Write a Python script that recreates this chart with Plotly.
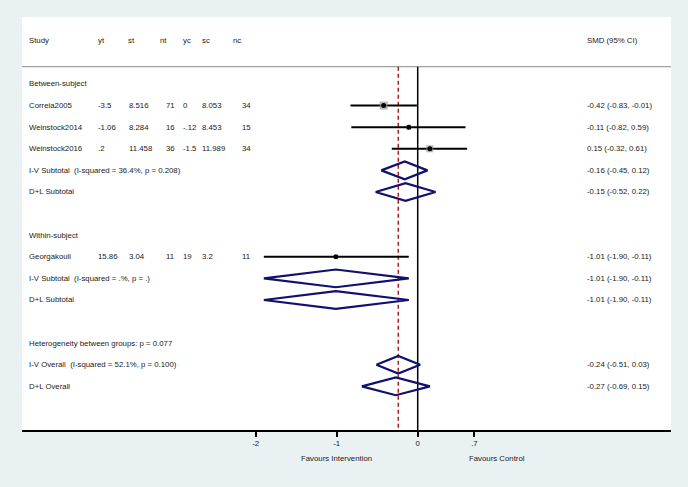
import plotly.graph_objects as go

# ---------------- data ----------------
studies = ["Correia2005", "Weinstock2014", "Weinstock2016", "Georgakouli"]
study_group = ["Between-subject", "Between-subject", "Between-subject", "Within-subject"]
yt = ["-3.5", "-1.06", ".2", "15.86"]
st = ["8.516", "8.284", "11.458", "3.04"]
nt = ["71", "16", "36", "11"]
yc = ["0", "-.12", "-1.5", "19"]
sc = ["8.053", "8.453", "11.989", "3.2"]
nc = ["34", "15", "34", "11"]
smd = [-0.42, -0.11, 0.15, -1.01]
ci_lo = [-0.83, -0.82, -0.32, -1.90]
ci_hi = [-0.01, 0.59, 0.61, -0.11]
box_weight = [43, 15, 33, 9]  # approximate % weights (box size)

groups = ["Between-subject", "Within-subject"]
iv_sub_label = ["I-V Subtotal\u00a0 (I-squared = 36.4%, p = 0.208)",
                "I-V Subtotal\u00a0 (I-squared = .%, p = .)"]
iv_sub_est = [-0.16, -1.01]
iv_sub_lo = [-0.45, -1.90]
iv_sub_hi = [0.12, -0.11]
dl_sub_label = ["D+L Subtotal", "D+L Subtotal"]
dl_sub_est = [-0.15, -1.01]
dl_sub_lo = [-0.52, -1.90]
dl_sub_hi = [0.22, -0.11]

het_text = "Heterogeneity between groups: p = 0.077"
overall_label = ["I-V Overall\u00a0 (I-squared = 52.1%, p = 0.100)", "D+L Overall"]
overall_est = [-0.24, -0.27]
overall_lo = [-0.51, -0.69]
overall_hi = [0.03, 0.15]

col_headers = ["Study", "yt", "st", "nt", "yc", "sc", "nc"]
effect_header = "SMD (95% CI)"
tick_vals = [-2, -1, 0, 0.7]
tick_text = ["-2", "-1", "0", ".7"]
left_label = "Favours Intervention"
right_label = "Favours Control"
ref_line = -0.24

# ---------------- layout constants ----------------
W, H = 688, 487
ML, MR, MT, MB = 22, 17, 17, 57
PW = W - ML - MR
FONT = "Liberation Sans, Arial, Helvetica, sans-serif"
FS = 7.8
TXT = "#1a1a1a"
NAVY = "#101070"
BG = "#e9f1f3"
hdr_px = [29, 98, 128, 160, 183, 201.7, 233]
val_px = [29, 98, 129, 166, 183, 201.7, 242]
eff_px = 587
TXT_SHIFT = -2
x_range = [-4.885, 3.127]
y_range = [16.02, -3.10]
header_row = -2
sep_row = -0.8
half_h = 0.41


def fmt(e, lo, hi):
    return f"{e:.2f} ({lo:.2f}, {hi:.2f})"


fig = go.Figure()
ann = []


def text(px, k, s):
    ann.append(dict(x=(px + TXT_SHIFT - ML) / PW, y=k, xref="paper", yref="y", text=s,
                    showarrow=False, xanchor="left", yanchor="middle",
                    font=dict(family=FONT, size=FS, color=TXT)))


def diamond(k, e, lo, hi):
    fig.add_trace(go.Scatter(x=[lo, e, hi, e, lo], y=[k, k - half_h, k, k + half_h, k],
                             mode="lines", line=dict(color=NAVY, width=2.2),
                             hoverinfo="skip", showlegend=False))


# headers
for h, px in zip(col_headers, hdr_px):
    text(px, header_row, h)
text(eff_px, header_row, effect_header)

row = 0
study_rows = []
for gi, g in enumerate(groups):
    text(val_px[0], row, g)
    row += 1
    for i, s in enumerate(studies):
        if study_group[i] != g:
            continue
        for v, px in zip([s, yt[i], st[i], nt[i], yc[i], sc[i], nc[i]], val_px):
            text(px, row, v)
        text(eff_px, row, fmt(smd[i], ci_lo[i], ci_hi[i]))
        study_rows.append((i, row))
        row += 1
    text(val_px[0], row, iv_sub_label[gi])
    text(eff_px, row, fmt(iv_sub_est[gi], iv_sub_lo[gi], iv_sub_hi[gi]))
    diamond(row, iv_sub_est[gi], iv_sub_lo[gi], iv_sub_hi[gi])
    row += 1
    text(val_px[0], row, dl_sub_label[gi])
    text(eff_px, row, fmt(dl_sub_est[gi], dl_sub_lo[gi], dl_sub_hi[gi]))
    diamond(row, dl_sub_est[gi], dl_sub_lo[gi], dl_sub_hi[gi])
    row += 2

text(val_px[0], row, het_text)
row += 1
for j in range(len(overall_label)):
    text(val_px[0], row, overall_label[j])
    text(eff_px, row, fmt(overall_est[j], overall_lo[j], overall_hi[j]))
    diamond(row, overall_est[j], overall_lo[j], overall_hi[j])
    row += 1

# reference lines (drawn under study marks)
shapes = [
    dict(type="line", xref="paper", yref="y", x0=0, x1=1, y0=sep_row, y1=sep_row,
         line=dict(color="#a0a0a0", width=1.2), layer="below"),
    dict(type="line", xref="x", yref="y", x0=0, x1=0, y0=sep_row, y1=y_range[0],
         line=dict(color="black", width=1.5), layer="below"),
    dict(type="line", xref="x", yref="y", x0=ref_line, x1=ref_line, y0=sep_row, y1=y_range[0],
         line=dict(color="#b22222", width=1.5, dash="4px,3px"), layer="below"),
]

# study CIs, boxes, points
for i, k in study_rows:
    fig.add_trace(go.Scatter(x=[ci_lo[i], ci_hi[i]], y=[k, k], mode="lines",
                             line=dict(color="black", width=2), hoverinfo="skip", showlegend=False))
bx = [smd[i] for i, k in study_rows]
by = [k for i, k in study_rows]
bs = [8 * (box_weight[i] / max(box_weight)) ** 0.5 for i, k in study_rows]
fig.add_trace(go.Scatter(x=bx, y=by, mode="markers",
                         marker=dict(symbol="square", size=bs, color="#9a9a9a", line=dict(width=0)),
                         hoverinfo="skip", showlegend=False))
fig.add_trace(go.Scatter(x=bx, y=by, mode="markers",
                         marker=dict(symbol="circle", size=5, color="black"),
                         hoverinfo="skip", showlegend=False))

# axis titles
for s, v in [(left_label, -1.0), (right_label, 0.985)]:
    ann.append(dict(x=v, y=-0.07, xref="x", yref="paper", text=s, showarrow=False,
                    xanchor="center", yanchor="middle",
                    font=dict(family=FONT, size=FS, color=TXT)))

fig.update_layout(
    width=W, height=H,
    margin=dict(l=ML, r=MR, t=MT, b=MB, pad=0),
    paper_bgcolor=BG, plot_bgcolor="white",
    showlegend=False,
    annotations=ann, shapes=shapes,
    xaxis=dict(range=x_range, showgrid=False, zeroline=False, showline=True,
               linecolor="black", linewidth=1.5, ticks="outside", ticklen=5,
               tickwidth=1.5, tickcolor="black", tickvals=tick_vals, ticktext=tick_text,
               tickfont=dict(family=FONT, size=FS, color=TXT), fixedrange=True),
    yaxis=dict(range=y_range, visible=False, fixedrange=True),
)

fig.write_html("out.html",
               config={"displayModeBar": False},
               post_script="document.body.style.margin='0';"
                           "document.body.style.background='" + BG + "';")
